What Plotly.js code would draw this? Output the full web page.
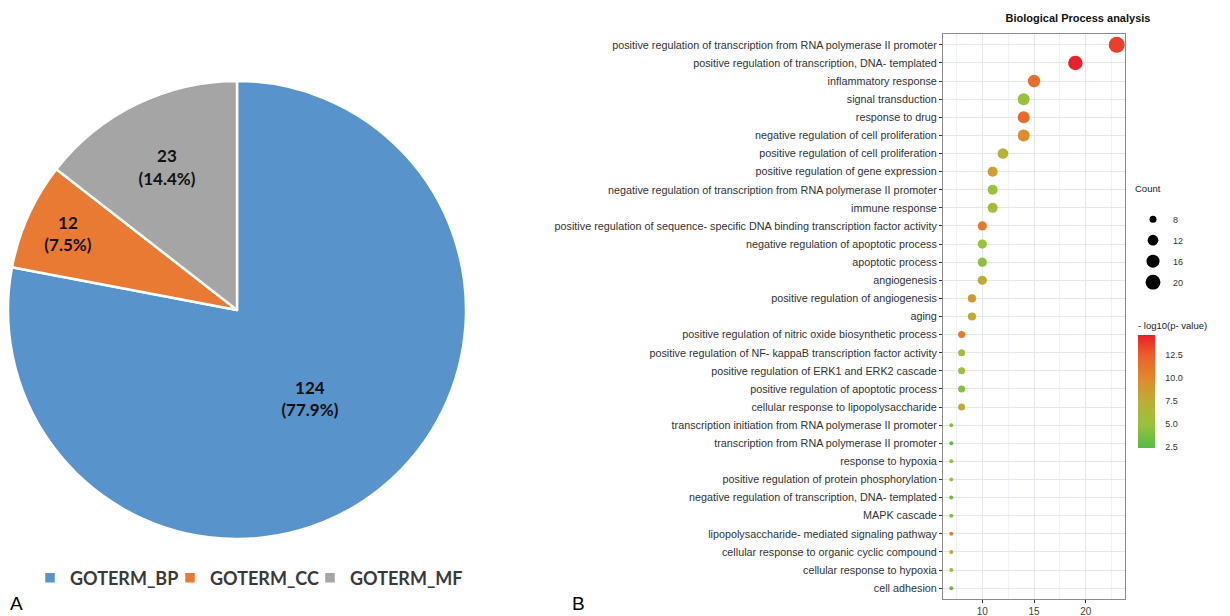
<!DOCTYPE html>
<html>
<head>
<meta charset="utf-8">
<script src="https://cdn.plot.ly/plotly-3.0.1.min.js"></script>
<style>html,body{margin:0;padding:0;background:#fff;}#chart{width:1230px;height:616px;}</style>
</head>
<body>
<div id="chart"></div>
<script>
// ---- Panel A data ----
const goTerms = ['GOTERM_BP', 'GOTERM_CC', 'GOTERM_MF'];
const goCounts = [124, 12, 23];
const goPercents = ['77.9%', '7.5%', '14.4%'];

// ---- Panel B data ----
const bpTerms = [
  'positive regulation of transcription from RNA polymerase II promoter',
  'positive regulation of transcription, DNA- templated',
  'inflammatory response',
  'signal transduction',
  'response to drug',
  'negative regulation of cell proliferation',
  'positive regulation of cell proliferation',
  'positive regulation of gene expression',
  'negative regulation of transcription from RNA polymerase II promoter',
  'immune response',
  'positive regulation of sequence- specific DNA binding transcription factor activity',
  'negative regulation of apoptotic process',
  'apoptotic process',
  'angiogenesis',
  'positive regulation of angiogenesis',
  'aging',
  'positive regulation of nitric oxide biosynthetic process',
  'positive regulation of NF- kappaB transcription factor activity',
  'positive regulation of ERK1 and ERK2 cascade',
  'positive regulation of apoptotic process',
  'cellular response to lipopolysaccharide',
  'transcription initiation from RNA polymerase II promoter',
  'transcription from RNA polymerase II promoter',
  'response to hypoxia',
  'positive regulation of protein phosphorylation',
  'negative regulation of transcription, DNA- templated',
  'MAPK cascade',
  'lipopolysaccharide- mediated signaling pathway',
  'cellular response to organic cyclic compound',
  'cellular response to hypoxia',
  'cell adhesion'
];
const bpCounts = [23, 19, 15, 14, 14, 14, 12, 11, 11, 11, 10, 10, 10, 10, 9, 9, 8, 8, 8, 8, 8, 7, 7, 7, 7, 7, 7, 7, 7, 7, 7];
const bpNegLog10P = [13.6, 14.7, 11.5, 5.0, 11.8, 9.8, 7.0, 8.6, 5.0, 6.0, 11.0, 5.0, 4.5, 7.6, 8.8, 7.8, 11.0, 6.0, 5.3, 4.3, 7.6, 4.5, 3.0, 4.8, 5.5, 3.2, 4.0, 10.5, 8.0, 5.5, 3.0];
const countBreaks = [8, 12, 16, 20];
const pTicks = [2.5, 5.0, 7.5, 10.0, 12.5];

// size scale (area-like, as ggplot scale_size)
const cMin = Math.min(...bpCounts), cMax = Math.max(...bpCounts);
function dotSize(c) { return 4 + 12 * Math.sqrt(Math.max(0, (c - cMin) / (cMax - cMin))); }

const RF = '"Liberation Sans", Arial, sans-serif';

const W = 1230, H = 616;
const px = v => v / W, py = v => 1 - v / H;

const colorscale = [[0, '#58B947'], [0.21, '#98C23C'], [0.415, '#BCAE34'], [0.62, '#E0882D'], [0.82, '#EC5F2A'], [1, '#E8202B']];

const traces = [];
traces.push({
  type: 'pie',
  labels: goTerms,
  values: goCounts,
  text: goCounts.map((v, i) => v + '<br>(' + goPercents[i] + ')'),
  textinfo: 'text',
  textposition: 'inside',
  insidetextorientation: 'horizontal',
  sort: false,
  direction: 'clockwise',
  rotation: 0,
  marker: { colors: ['#5893CC', '#E97A33', '#A5A5A5'], line: { color: '#ffffff', width: 2.5 } },
  insidetextfont: { family: 'Lato, sans-serif', size: 17, color: '#111', weight: 'bold' },
  domain: { x: [px(8), px(466)], y: [py(539), py(81)] },
  hoverinfo: 'label+value',
  legend: 'legend'
});

traces.push({
  type: 'scatter',
  mode: 'markers',
  x: bpCounts,
  y: bpTerms,
  xaxis: 'x', yaxis: 'y',
  showlegend: false,
  marker: {
    size: bpCounts.map(dotSize),
    color: bpNegLog10P,
    cmin: 2.4, cmax: 14.7,
    colorscale: colorscale,
    line: { width: 0 },
    opacity: 1,
    colorbar: {
      x: px(1138), xanchor: 'left', xpad: 0,
      y: py(448), yanchor: 'bottom', ypad: 0,
      len: 129, lenmode: 'pixels',
      thickness: 17, thicknessmode: 'pixels',
      outlinewidth: 0,
      tickvals: pTicks,
      ticktext: pTicks.map(v => v.toFixed(1)),
      ticks: 'outside', ticklen: 9, tickcolor: 'rgba(255,255,255,0)',
      tickfont: { family: RF, size: 9, color: '#333' },
      title: { text: '- log10(p- value)', side: 'top', font: { family: RF, size: 9.5, color: '#222' } }
    }
  }
});

countBreaks.forEach((c, i) => {
  traces.push({
    type: 'scatter', mode: 'markers', x: [null], y: [null], xaxis: 'x', yaxis: 'y',
    name: String(c), legend: 'legend2', legendgroup: 'g' + i,
    marker: { size: dotSize(c), color: '#000' },
    showlegend: true, hoverinfo: 'skip'
  });
});

const layout = {
  width: W, height: H,
  margin: { l: 0, r: 0, t: 0, b: 0 },
  paper_bgcolor: '#fff', plot_bgcolor: '#fff',
  title: {
    text: '<b>Biological Process analysis</b>',
    x: px(1078), xanchor: 'center', xref: 'paper',
    y: py(18), yanchor: 'middle', yref: 'paper',
    font: { family: RF, size: 11, color: '#111' }
  },
  xaxis: {
    domain: [px(943), px(1125)],
    range: [6.2, 23.8],
    dtick: 5, tick0: 0,
    ticks: 'outside', ticklen: 3, tickcolor: '#333',
    tickfont: { family: RF, size: 10, color: '#444' },
    showline: true, mirror: true, linecolor: '#8C8C8C', linewidth: 1,
    showgrid: true, gridcolor: '#E3E8ED', gridwidth: 1,
    minor: { dtick: 2.5, tick0: 0, showgrid: true, gridcolor: '#EEF1F4', gridwidth: 0.8, ticks: '' },
    zeroline: false, fixedrange: true
  },
  yaxis: {
    domain: [py(599), py(34)],
    type: 'category',
    categoryorder: 'array',
    categoryarray: bpTerms.slice().reverse(),
    range: [-0.6, bpTerms.length - 0.4],
    ticks: 'outside', ticklen: 3, tickcolor: '#333',
    tickfont: { family: RF, size: 10.8, color: '#333' },
    showline: true, mirror: true, linecolor: '#8C8C8C', linewidth: 1,
    showgrid: true, gridcolor: '#E3E8ED', gridwidth: 1,
    zeroline: false, fixedrange: true
  },
  legend: {
    orientation: 'h',
    x: px(30), xanchor: 'left',
    y: py(578), yanchor: 'middle',
    font: { family: 'Lato, sans-serif', size: 18, color: '#3A3A3A', weight: 'bold' },
    entrywidth: 95, entrywidthmode: 'pixels',
    itemclick: false, itemdoubleclick: false,
    bgcolor: 'rgba(0,0,0,0)'
  },
  legend2: {
    x: px(1133), xanchor: 'left',
    y: py(180), yanchor: 'top',
    title: { text: 'Count<br> ', side: 'top', font: { family: RF, size: 9.5, color: '#222' } },
    font: { family: RF, size: 9, color: '#333' },
    itemsizing: 'trace', itemwidth: 30,
    tracegroupgap: 2,
    itemclick: false, itemdoubleclick: false,
    bgcolor: 'rgba(0,0,0,0)'
  },
  annotations: [
    { text: 'A', xref: 'paper', yref: 'paper', x: px(8), y: py(603), xanchor: 'left', yanchor: 'middle', showarrow: false,
      font: { family: RF, size: 19, color: '#000' } },
    { text: 'B', xref: 'paper', yref: 'paper', x: px(570), y: py(603), xanchor: 'left', yanchor: 'middle', showarrow: false,
      font: { family: RF, size: 19, color: '#000' } }
  ]
};

Plotly.newPlot('chart', traces, layout, { staticPlot: true, displayModeBar: false }).then(gd => {
  // let the last pie legend entry overflow its fixed entry width instead of being clipped
  gd.querySelectorAll('.legend .scrollbox').forEach(el => el.removeAttribute('clip-path'));
});
</script>
</body>
</html>
